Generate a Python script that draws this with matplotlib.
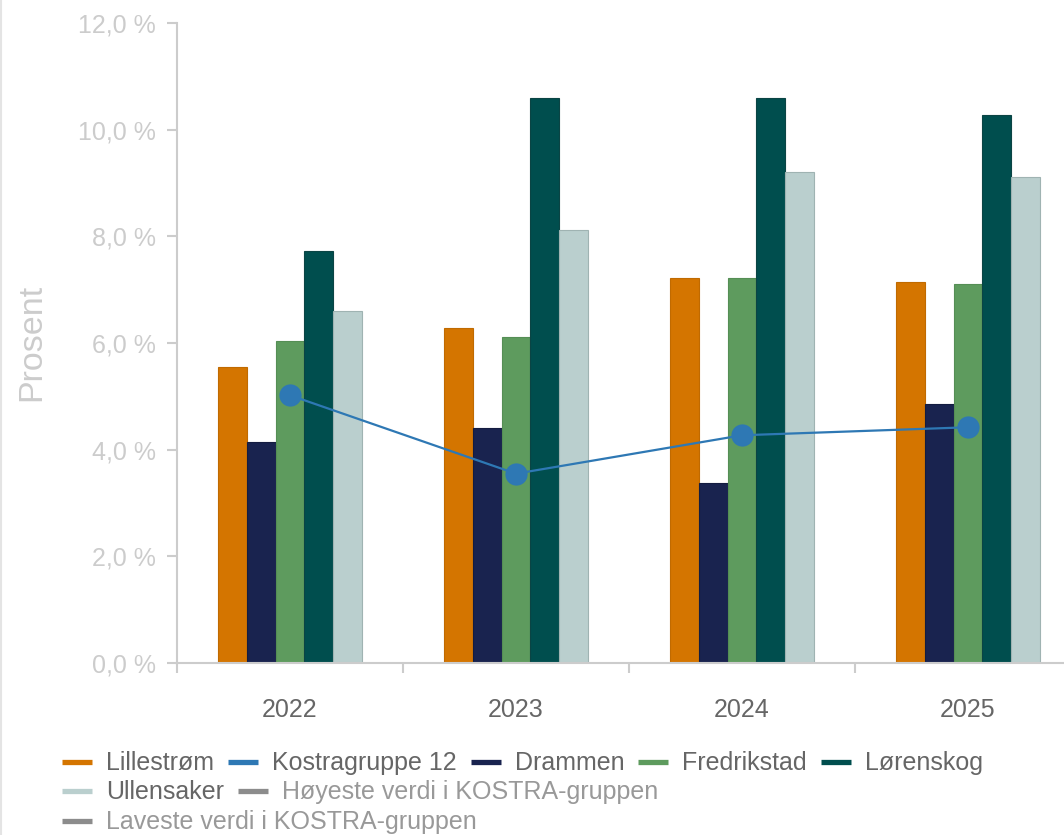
import matplotlib
matplotlib.use('Agg')
import matplotlib.pyplot as plt
from matplotlib.lines import Line2D
import numpy as np

plt.rcParams['font.family'] = ['Liberation Sans', 'DejaVu Sans']

years = ['2022', '2023', '2024', '2025']
lillestrom = [5.55, 6.28, 7.22, 7.15]
drammen = [4.15, 4.40, 3.37, 4.85]
fredrikstad = [6.03, 6.12, 7.22, 7.10]
lorenskog = [7.72, 10.60, 10.60, 10.27]
ullensaker = [6.60, 8.12, 9.20, 9.12]
kostra12 = [5.02, 3.55, 4.27, 4.42]
y_ticks = [0, 2, 4, 6, 8, 10, 12]

c_lil = '#D47500'
c_kos = '#2E78B4'
c_dra = '#19234F'
c_fre = '#5E9B5E'
c_lor = '#004E4E'
c_ull = '#BACFCE'
c_grey = '#8C8C8C'

W, H = 1064, 835
fig = plt.figure(figsize=(W / 100, H / 100), dpi=100)
ax = fig.add_axes([177 / W, (H - 663) / H, 904 / W, 640 / H])

bars = [
    (lillestrom, c_lil, '#c06a00'),
    (drammen, c_dra, '#141c40'),
    (fredrikstad, c_fre, '#558e55'),
    (lorenskog, c_lor, '#0b4444'),
    (ullensaker, c_ull, '#9fb3b2'),
]
bw = 0.128
x = np.arange(len(years))
for k, (vals, col, ec) in enumerate(bars):
    ax.bar(x + (k - 2) * bw, vals, width=bw, color=col, edgecolor=ec,
           linewidth=0.8, zorder=2)

ax.plot(x, kostra12, color=c_kos, lw=1.6, marker='o', markersize=15,
        zorder=4)

ax.set_xlim(-0.5, len(years) - 0.5)
ax.set_ylim(0, 12)

for s in ['top', 'right']:
    ax.spines[s].set_visible(False)
for s in ['left', 'bottom']:
    ax.spines[s].set_color('#cccccc')
    ax.spines[s].set_linewidth(1.5)

ax.set_yticks(y_ticks)
ax.set_yticklabels([f"{v:.1f}".replace('.', ',') + ' %' for v in y_ticks])
ax.tick_params(axis='y', colors='#cccccc', labelcolor='#cccccc',
               labelsize=18, length=7, width=1.5, pad=8)

ax.set_xticks(np.arange(-0.5, len(years), 1.0))
ax.set_xticklabels([])
ax.tick_params(axis='x', which='major', colors='#cccccc', length=7, width=1.5)
ax.set_xticks(x, minor=True)
ax.set_xticklabels(years, minor=True)
ax.tick_params(axis='x', which='minor', length=0, labelsize=18,
               labelcolor='#666666', pad=25)

fig.text(32 / W, 1 - 342 / H, 'Prosent', rotation=90, ha='center',
         va='center', fontsize=24.5, color='#cccccc')

# left border of card
fig.add_artist(Line2D([1.0 / W, 1.0 / W], [0, 1], color='#e4e4e4', lw=1.5))

# custom flowing legend
items = [
    ('Lillestrøm', c_lil, '#666666'),
    ('Kostragruppe 12', c_kos, '#666666'),
    ('Drammen', c_dra, '#666666'),
    ('Fredrikstad', c_fre, '#666666'),
    ('Lørenskog', c_lor, '#666666'),
    ('Ullensaker', c_ull, '#666666'),
    ('Høyeste verdi i KOSTRA-gruppen', c_grey, '#999999'),
    ('Laveste verdi i KOSTRA-gruppen', c_grey, '#999999'),
]
renderer = fig.canvas.get_renderer()
x0 = 62
max_x = 1040
row_y = [762, 791, 821]
row = 0
cx = x0
for label, hc, tc in items:
    t = fig.text(0, 0, label, fontsize=18, color=tc, ha='left', va='center')
    tw = t.get_window_extent(renderer).width
    need = 30 + 14 + tw
    if cx > x0 and cx + need > max_x:
        row += 1
        cx = x0
    py = row_y[row]
    fig.add_artist(Line2D([cx / W, (cx + 30) / W], [1 - py / H, 1 - py / H],
                          color=hc, lw=3.8, solid_capstyle='butt'))
    t.set_position(((cx + 44) / W, 1 - (py + 1) / H))
    cx = cx + need + 14

fig.savefig('out.png', dpi=100)
